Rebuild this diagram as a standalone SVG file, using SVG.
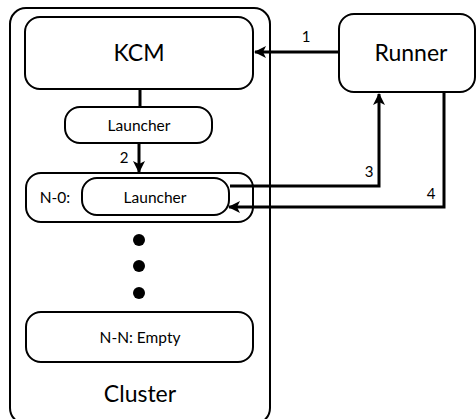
<svg xmlns="http://www.w3.org/2000/svg" width="476" height="419" viewBox="0 0 476 419">
  <style>
    .box { fill: #fff; stroke: #000; stroke-width: 2; }
    .edge { fill: none; stroke: #000; stroke-width: 3; }
    text { font-family: "Gill Sans", Lato, "Open Sans", sans-serif; fill: #000; text-anchor: middle; }
    .big { font-size: 23px; }
    .small { font-size: 15.5px; }
    .num { font-size: 15px; }
  </style>
  <defs>
    <marker id="arrow" viewBox="0 0 12 12" refX="11" refY="6" markerWidth="12" markerHeight="12" markerUnits="userSpaceOnUse" orient="auto">
      <path d="M0,0 L12,6 L0,12 L3,6 Z" fill="#000"/>
    </marker>
  </defs>

  <g id="cluster">
    <rect class="box" x="10" y="8" width="260" height="416" rx="16"/>
    <text class="big" x="140" y="402">Cluster</text>
  </g>

  <g id="kcm">
    <rect class="box" x="25" y="17" width="228" height="72" rx="15"/>
    <text class="big" x="139" y="61">KCM</text>
  </g>

  <g id="runner">
    <rect class="box" x="339" y="14" width="136" height="78" rx="15"/>
    <text class="big" x="411" y="61">Runner</text>
  </g>

  <g id="launcher">
    <rect class="box" x="65" y="107" width="147" height="36" rx="15"/>
    <text class="small" x="139" y="131">Launcher</text>
  </g>

  <g id="node-0">
    <rect class="box" x="26" y="173" width="227" height="49" rx="15"/>
    <text class="small" x="55" y="203">N-0:</text>
  </g>

  <g id="node-0-launcher">
    <rect class="box" x="82" y="178" width="147" height="37" rx="15"/>
    <text class="small" x="155" y="203">Launcher</text>
  </g>

  <g id="ellipsis">
    <circle cx="139" cy="240" r="6"/>
    <circle cx="139" cy="266" r="6"/>
    <circle cx="139" cy="293" r="6"/>
  </g>

  <g id="node-n">
    <rect class="box" x="26" y="312" width="227" height="50" rx="15"/>
    <text class="small" x="140" y="343">N-N: Empty</text>
  </g>

  <g id="connectors">
    <path class="edge" d="M339,52 H255" marker-end="url(#arrow)"/>
    <text class="num" x="306" y="42">1</text>
    <path class="edge" d="M140,89 V107"/>
    <path class="edge" d="M139,143 V172" marker-end="url(#arrow)"/>
    <text class="num" x="124" y="163">2</text>
    <path class="edge" d="M230,186 H379 V94" marker-end="url(#arrow)"/>
    <text class="num" x="369" y="177">3</text>
    <path class="edge" d="M444,92 V207 H229" marker-end="url(#arrow)"/>
    <text class="num" x="431" y="199">4</text>
  </g>
</svg>
